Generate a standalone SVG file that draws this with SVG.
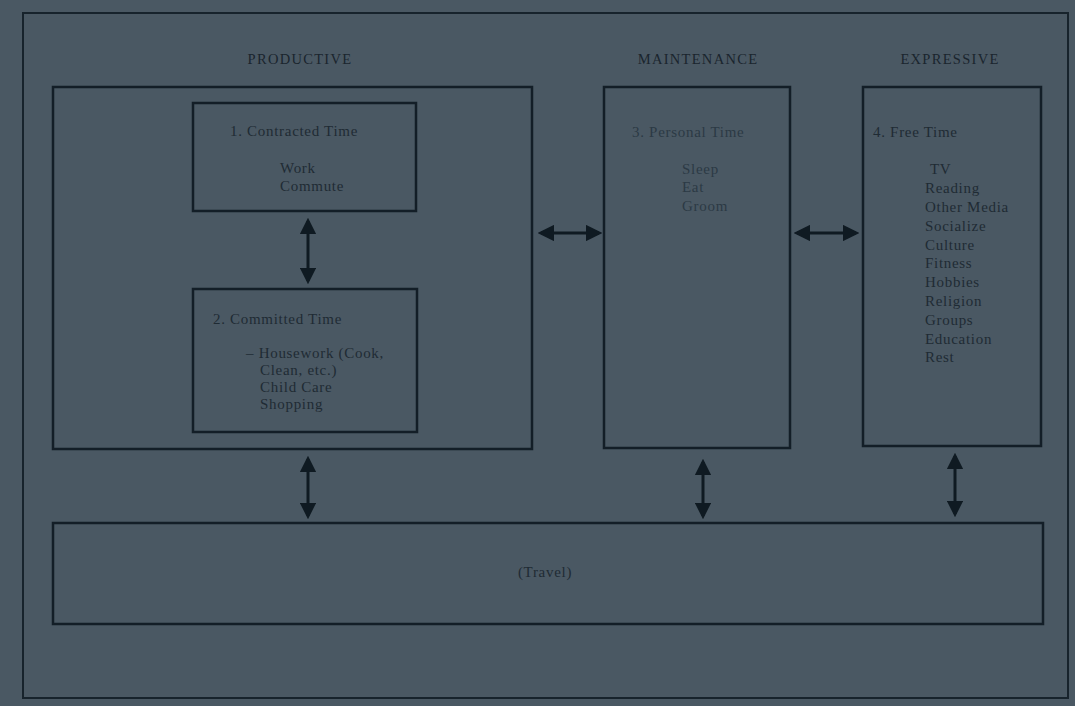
<svg xmlns="http://www.w3.org/2000/svg" width="1075" height="706" viewBox="0 0 1075 706">
<defs>
<style>
.box{fill:none;stroke:#131e27;stroke-width:2.5}
.t{font-family:"Liberation Serif","DejaVu Serif",serif;font-size:15px;fill:#1f2b34;letter-spacing:0.7px}
.h{font-family:"Liberation Serif","DejaVu Serif",serif;font-size:14.5px;fill:#1a252e;letter-spacing:1.3px}
.lt{fill:#2c3a45}
.con{stroke:#0f1a22;stroke-width:3;fill:none;marker-start:url(#ah);marker-end:url(#ah)}
</style>
<marker id="ah" viewBox="0 0 10 10" refX="8" refY="5" markerWidth="5.5" markerHeight="5.5" orient="auto-start-reverse">
<path d="M0,0 L10,5 L0,10 Z" fill="#0f1a22"/>
</marker>
</defs>
<rect x="0" y="0" width="1075" height="706" fill="#4a5863"/>
<rect x="23" y="13" width="1045" height="685" fill="none" stroke="#17232c" stroke-width="2"/>
<g id="headers">
<text class="h" x="300" y="64" text-anchor="middle">PRODUCTIVE</text>
<text class="h" x="698" y="64" text-anchor="middle">MAINTENANCE</text>
<text class="h" x="950" y="64" text-anchor="middle">EXPRESSIVE</text>
</g>
<g id="productive"><rect class="box" x="53" y="87" width="479" height="362"/></g>
<g id="contracted">
<rect class="box" x="193" y="103" width="223" height="108"/>
<text class="t" x="230" y="136">1.  Contracted Time</text>
<text class="t" x="280" y="173">Work</text>
<text class="t" x="280" y="191">Commute</text>
</g>
<g id="committed">
<rect class="box" x="193" y="289" width="224" height="143"/>
<text class="t" x="213" y="324">2.  Committed Time</text>
<text class="t" x="246" y="358">– Housework (Cook,</text>
<text class="t" x="260" y="375">Clean, etc.)</text>
<text class="t" x="260" y="392">Child Care</text>
<text class="t" x="260" y="409">Shopping</text>
</g>
<g id="personal">
<rect class="box" x="604" y="87" width="186" height="361"/>
<text class="t lt" x="632" y="137">3.  Personal Time</text>
<text class="t lt" x="682" y="174">Sleep</text>
<text class="t lt" x="682" y="192">Eat</text>
<text class="t lt" x="682" y="211">Groom</text>
</g>
<g id="free">
<rect class="box" x="863" y="87" width="178" height="359"/>
<text class="t" x="873" y="137">4.  Free Time</text>
<text class="t" x="930" y="174">TV</text>
<text class="t" x="925" y="193">Reading</text>
<text class="t" x="925" y="212">Other Media</text>
<text class="t" x="925" y="231">Socialize</text>
<text class="t" x="925" y="250">Culture</text>
<text class="t" x="925" y="268">Fitness</text>
<text class="t" x="925" y="287">Hobbies</text>
<text class="t" x="925" y="306">Religion</text>
<text class="t" x="925" y="325">Groups</text>
<text class="t" x="925" y="344">Education</text>
<text class="t" x="925" y="362">Rest</text>
</g>
<g id="travel">
<rect class="box" x="53" y="523" width="990" height="101"/>
<text class="t" x="545" y="577" text-anchor="middle">(Travel)</text>
</g>
<g id="connectors">
<line class="con" x1="308" y1="221" x2="308" y2="281"/>
<line class="con" x1="541" y1="233" x2="599" y2="233"/>
<line class="con" x1="797" y1="233" x2="856" y2="233"/>
<line class="con" x1="308" y1="459" x2="308" y2="516"/>
<line class="con" x1="703" y1="462" x2="703" y2="516"/>
<line class="con" x1="955" y1="456" x2="955" y2="514"/>
</g>
</svg>
